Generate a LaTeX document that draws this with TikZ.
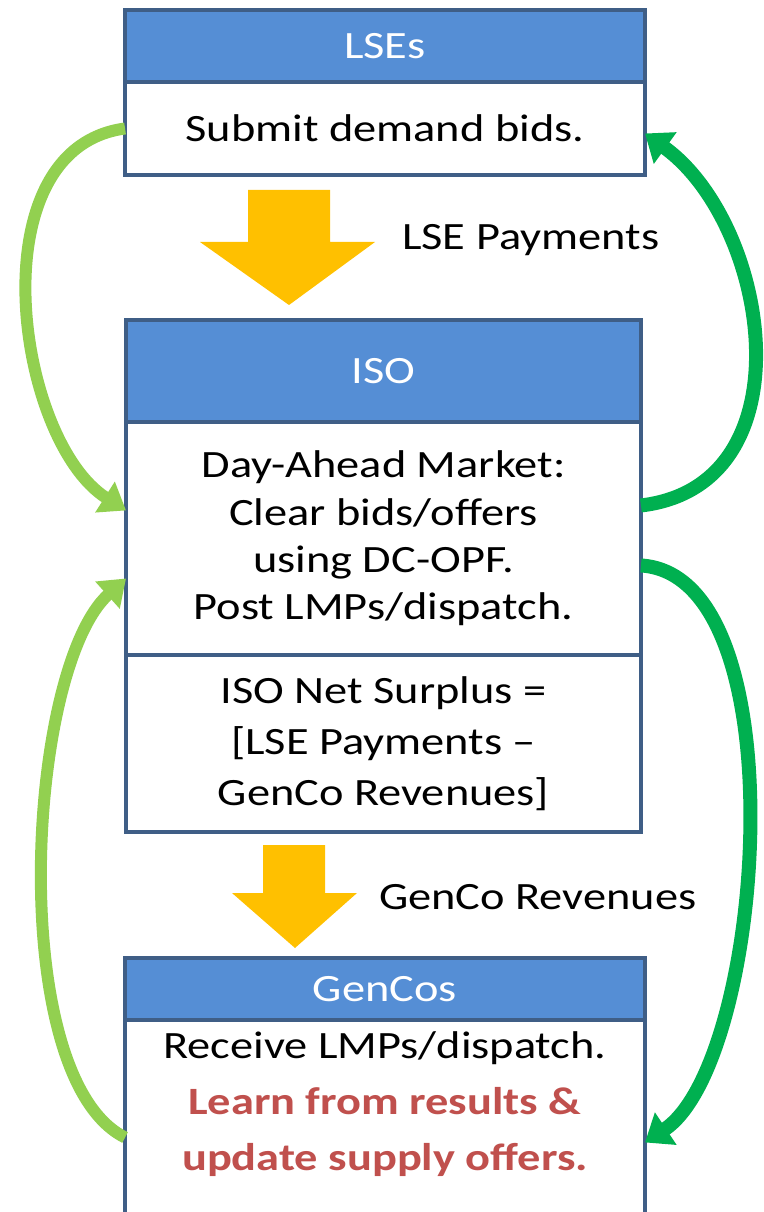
\documentclass[tikz,border=0pt]{standalone}
\usepackage{fontspec}
\setmainfont{Carlito}[FakeStretch=1.2]
\usepackage{tikz}
\usetikzlibrary{arrows.meta, positioning}

\definecolor{headblue}{HTML}{558ED5}
\definecolor{edgeblue}{HTML}{3F5E86}
\definecolor{payyellow}{HTML}{FFC000}
\definecolor{lightgreen}{HTML}{92D050}
\definecolor{darkgreen}{HTML}{00B050}
\definecolor{learnred}{HTML}{C0504D}

\begin{document}
\begin{tikzpicture}[x=0.02cm, y=-0.02cm,
        every node/.style={align=center, font=\fontsize{22}{27}\selectfont},
        head/.style={draw=edgeblue, line width=2.4pt, fill=headblue, text=white, minimum width=10.4cm, outer sep=0pt},
        body/.style={draw=edgeblue, line width=2.4pt, fill=white, minimum width=10.4cm, outer sep=0pt},
        flow/.style={fill=payyellow},
        loopup/.style={draw=lightgreen, line width=0.24cm, -{Triangle[width=0.7cm,length=0.5cm]}},
        loopdown/.style={draw=darkgreen, line width=0.28cm, -{Triangle[width=0.75cm,length=0.5cm]}}]

        \useasboundingbox (0,0) rectangle (763,1212);

        % Nodes
        \node [head, minimum height=1.44cm] (lsehead) at (385,46) {LSEs};
        \node [body, minimum height=1.86cm, below=0pt of lsehead] (lsebody) {Submit demand bids.};

        \node [head, minimum width=10.3cm, minimum height=2.04cm] (isohead) at (383.5,371) {ISO};
        \node [body, minimum width=10.3cm, minimum height=4.66cm, below=0pt of isohead] (isomarket)
            {Day-Ahead Market:\\Clear bids/offers\\using DC-OPF.\\Post LMPs/dispatch.};
        \node [body, minimum width=10.3cm, minimum height=3.54cm, below=0pt of isomarket,
            font=\fontsize{22}{29}\selectfont] (isosurplus)
            {ISO Net Surplus =\\{}[LSE Payments --\\GenCo Revenues]};

        \node [head, minimum height=1.24cm] (gencohead) at (385,989) {GenCos};
        \node [body, minimum height=4.1cm, below=0pt of gencohead] (gencobody) {};
        \node [font=\fontsize{22}{32}\selectfont] (gencotext) at (385,1104)
            {Receive LMPs/dispatch.\\\textcolor{learnred}{\textbf{Learn from results \&}}\\\textcolor{learnred}{\textbf{update supply offers.}}};

        \node [anchor=west] (paylabel) at (396,240) {LSE Payments};
        \node [anchor=west] (revlabel) at (373,897) {GenCo Revenues};

        % Money flows
        \fill [flow] (248,190) -- (330,190) -- (330,242) -- (375,242) -- (289,305) -- (200,242) -- (248,242) -- cycle;
        \fill [flow] (263,845) -- (325,845) -- (325,893) -- (357,893) -- (295,948) -- (232,893) -- (263,893) -- cycle;

        % Arrows
        \draw [loopup] (lsebody.west) .. controls +(-150,20) and +(-110,-70) .. ([yshift=0.56cm]isomarket.west);
        \draw [loopup] ([yshift=-0.3cm]gencobody.west) .. controls +(-120,-60) and +(-100,90) .. ([yshift=-0.8cm]isomarket.west);
        \draw [loopdown] ([yshift=0.66cm]isomarket.east) .. controls +(170,-20) and +(125,90) .. ([yshift=-0.1cm]lsebody.east);
        \draw [loopdown] ([yshift=-0.54cm]isomarket.east) .. controls +(160,10) and +(120,-80) .. ([yshift=-0.4cm]gencobody.east);
\end{tikzpicture}
\end{document}
